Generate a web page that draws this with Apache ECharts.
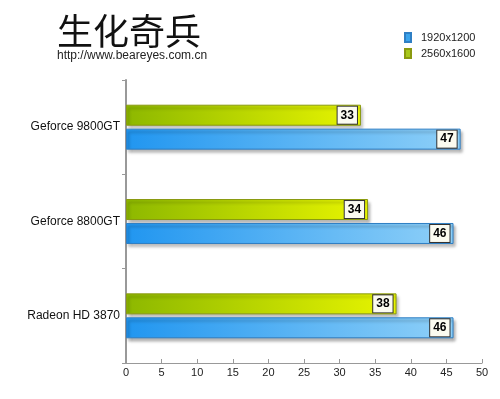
<!DOCTYPE html>
<html>
<head>
<meta charset="utf-8">
<style>
  html, body { margin: 0; padding: 0; background: #fff; }
  #chart { width: 500px; height: 399px; }
</style>
<script src="https://cdn.jsdelivr.net/npm/echarts@6/dist/echarts.min.js"></script>
</head>
<body>
<div id="chart"></div>
<script>
// 数据
const categories = ['Radeon HD 3870', 'Geforce 8800GT', 'Geforce 9800GT'];
const seriesNames = ['1920x1200', '2560x1600'];
const fps1920 = [46, 46, 47];
const fps2560 = [38, 34, 33];
const xTicks = [0, 50, 5]; // min, max, interval

(function () {
    let chart = echarts.init(document.querySelector('#chart'));

    // 蓝色 / 绿色渐变
    const blue = new echarts.graphic.LinearGradient(0, 0, 1, 0, [
        { offset: 0, color: '#2196f0' },
        { offset: 1, color: '#8fd0f8' }
    ]);
    const green = new echarts.graphic.LinearGradient(0, 0, 1, 0, [
        { offset: 0, color: '#8db800' },
        { offset: 1, color: '#e8f500' }
    ]);

    const labelStyle = {
        show: true,
        position: 'insideRight',
        distance: 4,
        color: '#000',
        fontWeight: 'bold',
        fontSize: 12,
        fontFamily: 'Liberation Sans, Arial',
        backgroundColor: '#fbfbf0',
        borderColor: '#333',
        borderWidth: 1,
        padding: [3, 3, 2, 3]
    };

    let option = {
        animation: false,
        title: {
            text: '生化奇兵',
            subtext: 'http://www.beareyes.com.cn',
            left: 52,
            top: 8,
            itemGap: 1,
            textStyle: {
                fontFamily: 'Noto Sans CJK SC',
                fontWeight: 'normal',
                fontSize: 36,
                color: '#111'
            },
            subtextStyle: {
                fontFamily: 'Liberation Sans, Arial',
                fontSize: 12,
                color: '#222'
            }
        },
        legend: {
            orient: 'vertical',
            left: 399,
            top: 27,
            icon: 'rect',
            itemWidth: 6,
            itemHeight: 9,
            itemGap: 5,
            textStyle: {
                fontFamily: 'Liberation Sans, Arial',
                fontSize: 11,
                color: '#222',
                padding: [0, 0, 0, 5]
            },
            data: [
                { name: seriesNames[0], itemStyle: { color: '#3aa4ec' } },
                { name: seriesNames[1], itemStyle: { color: '#a8c81a' } }
            ]
        },
        grid: {
            left: 126,
            right: 18,
            top: 80,
            bottom: 36
        },
        xAxis: {
            type: 'value',
            min: xTicks[0],
            max: xTicks[1],
            interval: xTicks[2],
            splitLine: { show: false },
            axisLine: { show: true, lineStyle: { color: '#999' } },
            axisTick: { show: true, inside: true, length: 4, lineStyle: { color: '#999' } },
            axisLabel: {
                color: '#222',
                fontSize: 11,
                fontFamily: 'Liberation Sans, Arial',
                margin: 4
            }
        },
        yAxis: {
            type: 'category',
            data: categories,
            axisLine: { show: true, lineStyle: { color: '#999', width: 2 } },
            axisTick: { show: true, length: 4, lineStyle: { color: '#999' } },
            axisLabel: {
                color: '#111',
                fontSize: 12,
                fontFamily: 'Liberation Sans, Arial',
                margin: 6
            }
        },
        series: [
            {
                name: seriesNames[1],
                type: 'bar',
                data: fps2560,
                barWidth: 21,
                barGap: '14%',
                itemStyle: {
                    color: green,
                    borderColor: '#8a9a10',
                    borderWidth: 1,
                    shadowColor: 'rgba(0,0,0,0.3)',
                    shadowBlur: 3,
                    shadowOffsetX: 2,
                    shadowOffsetY: 3
                },
                label: labelStyle
            },
            {
                name: seriesNames[0],
                type: 'bar',
                data: fps1920,
                barWidth: 21,
                barGap: '14%',
                itemStyle: {
                    color: blue,
                    borderColor: '#2f7fc4',
                    borderWidth: 1,
                    shadowColor: 'rgba(0,0,0,0.35)',
                    shadowBlur: 3,
                    shadowOffsetX: 2,
                    shadowOffsetY: 3
                },
                label: labelStyle
            }
        ]
    };

    chart.setOption(option);
})();
</script>
</body>
</html>
